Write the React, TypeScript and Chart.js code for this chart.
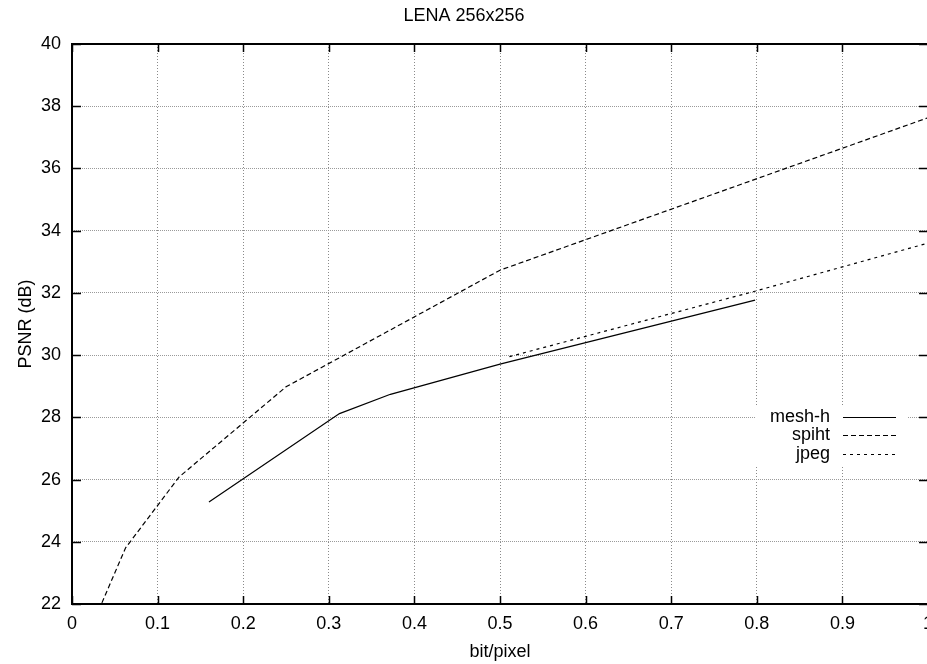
import React, { useEffect, useRef } from "react";
import { Chart, registerables } from "chart.js";

Chart.register(...registerables);

// ---- data ----
const TITLE = "LENA 256x256";
const X_TITLE = "bit/pixel";
const Y_TITLE = "PSNR (dB)";
const SERIES_NAMES = ["mesh-h", "spiht", "jpeg"];

const MESH_X = [0.16, 0.3125, 0.372, 0.5, 0.798];
const MESH_Y = [25.28, 28.12, 28.74, 29.71, 31.77];

const SPIHT_X = [0.03125, 0.0625, 0.125, 0.25, 0.5, 1.0];
const SPIHT_Y = [21.8, 23.8, 26.08, 28.98, 32.73, 37.63];

const JPEG_X = [0.511, 0.8, 1.0];
const JPEG_Y = [29.95, 32.07, 33.6];

const X_MIN = 0;
const X_MAX = 1;
const X_STEP = 0.1;
const Y_MIN = 22;
const Y_MAX = 40;
const Y_STEP = 2;

const FONT = "'Liberation Sans', Arial, Helvetica, sans-serif";

const toPoints = (xs: number[], ys: number[]) => xs.map((x, i) => ({ x, y: ys[i] }));

const gnuplotPlugin = {
  id: "gnuplotFrame",
  beforeDatasetsDraw(chart: any) {
    const { ctx, chartArea: a } = chart;
    // key area erases the grid behind it
    ctx.save();
    ctx.fillStyle = "#ffffff";
    ctx.fillRect(a.right - 172, a.top + 363, 151, 58);
    ctx.restore();
  },
  afterDatasetsDraw(chart: any) {
    const { ctx, chartArea: a, scales } = chart;
    ctx.save();
    // inward tick marks on all four sides
    ctx.strokeStyle = "#000";
    ctx.lineWidth = 1.5;
    ctx.beginPath();
    scales.x.ticks.forEach((t: any) => {
      const px = Math.round(scales.x.getPixelForValue(t.value)) + 0.5;
      ctx.moveTo(px, a.bottom);
      ctx.lineTo(px, a.bottom - 8);
      ctx.moveTo(px, a.top);
      ctx.lineTo(px, a.top + 8);
    });
    scales.y.ticks.forEach((t: any) => {
      const py = Math.round(scales.y.getPixelForValue(t.value)) + 0.5;
      ctx.moveTo(a.left, py);
      ctx.lineTo(a.left + 9, py);
      ctx.moveTo(a.right, py);
      ctx.lineTo(a.right - 9, py);
    });
    ctx.stroke();
    // frame
    ctx.lineWidth = 2;
    ctx.strokeRect(a.left, a.top, a.right - a.left, a.bottom - a.top);

    // key
    ctx.font = `18px ${FONT}`;
    ctx.fillStyle = "#000";
    ctx.textAlign = "right";
    ctx.textBaseline = "middle";
    chart.data.datasets.forEach((ds: any, i: number) => {
      const y = a.top + 373 + i * 18.3;
      ctx.fillText(ds.label, a.right - 98, y);
      ctx.save();
      ctx.strokeStyle = ds.borderColor;
      ctx.lineWidth = ds.borderWidth;
      ctx.setLineDash(ds.borderDash || []);
      ctx.beginPath();
      const yy = Math.round(y) + 0.5;
      ctx.moveTo(a.right - 85, yy);
      ctx.lineTo(a.right - 32, yy);
      ctx.stroke();
      ctx.restore();
    });
    ctx.restore();
  },
};

export default function App() {
  const ref = useRef<HTMLCanvasElement | null>(null);

  useEffect(() => {
    if (!ref.current) return;
    Chart.defaults.font.family = FONT;
    Chart.defaults.font.size = 18;
    Chart.defaults.color = "#000";

    const chart = new Chart(ref.current, {
      type: "line",
      data: {
        datasets: [
          {
            label: SERIES_NAMES[0],
            data: toPoints(MESH_X, MESH_Y),
            borderColor: "#000",
            borderWidth: 1.2,
            pointRadius: 0,
            tension: 0,
          },
          {
            label: SERIES_NAMES[1],
            data: toPoints(SPIHT_X, SPIHT_Y),
            borderColor: "#000",
            borderWidth: 1.2,
            borderDash: [5, 3],
            pointRadius: 0,
            tension: 0,
          },
          {
            label: SERIES_NAMES[2],
            data: toPoints(JPEG_X, JPEG_Y),
            borderColor: "#000",
            borderWidth: 1.2,
            borderDash: [3, 4],
            pointRadius: 0,
            tension: 0,
          },
        ],
      },
      plugins: [gnuplotPlugin],
      options: {
        responsive: false,
        animation: false,
        devicePixelRatio: 1,
        layout: { padding: { left: 0, right: 72, top: 0, bottom: 0 } },
        plugins: {
          legend: { display: false },
          tooltip: { enabled: false },
          title: {
            display: true,
            text: TITLE,
            color: "#000",
            font: { size: 18, weight: "normal", family: FONT },
            padding: { top: 5.7, bottom: 16.7 },
          },
        },
        scales: {
          x: {
            type: "linear",
            min: X_MIN,
            max: X_MAX,
            afterFit: (s: any) => {
              s.height = 60;
            },
            ticks: {
              stepSize: X_STEP,
              padding: 9,
              color: "#000",
              font: { size: 18, family: FONT },
              callback: (v: any) => String(Number(Number(v).toFixed(1))),
            },
            grid: {
              drawTicks: false,
              color: "#8a8a8a",
              lineWidth: 1,
            },
            border: { display: false, dash: [1, 2] },
            title: {
              display: true,
              text: X_TITLE,
              color: "#000",
              font: { size: 18, family: FONT },
              padding: { top: 0, bottom: 1.4 },
            },
          },
          y: {
            type: "linear",
            min: Y_MIN,
            max: Y_MAX,
            afterFit: (s: any) => {
              s.width = 72;
            },
            ticks: {
              stepSize: Y_STEP,
              padding: 11,
              color: "#000",
              font: { size: 18, family: FONT },
            },
            grid: {
              drawTicks: false,
              color: "#9a9a9a",
              lineWidth: 1,
            },
            border: { display: false, dash: [1, 1] },
            title: {
              display: true,
              text: Y_TITLE,
              color: "#000",
              font: { size: 18, family: FONT },
              padding: { top: 15, bottom: 0 },
            },
          },
        },
      },
    } as any);

    return () => chart.destroy();
  }, []);

  return (
    <div
      style={{
        position: "absolute",
        left: 0,
        top: 0,
        width: 927,
        height: 664,
        overflow: "hidden",
        background: "#fff",
      }}
    >
      <canvas ref={ref} width={1000} height={664} style={{ width: 1000, height: 664, display: "block" }} />
    </div>
  );
}
